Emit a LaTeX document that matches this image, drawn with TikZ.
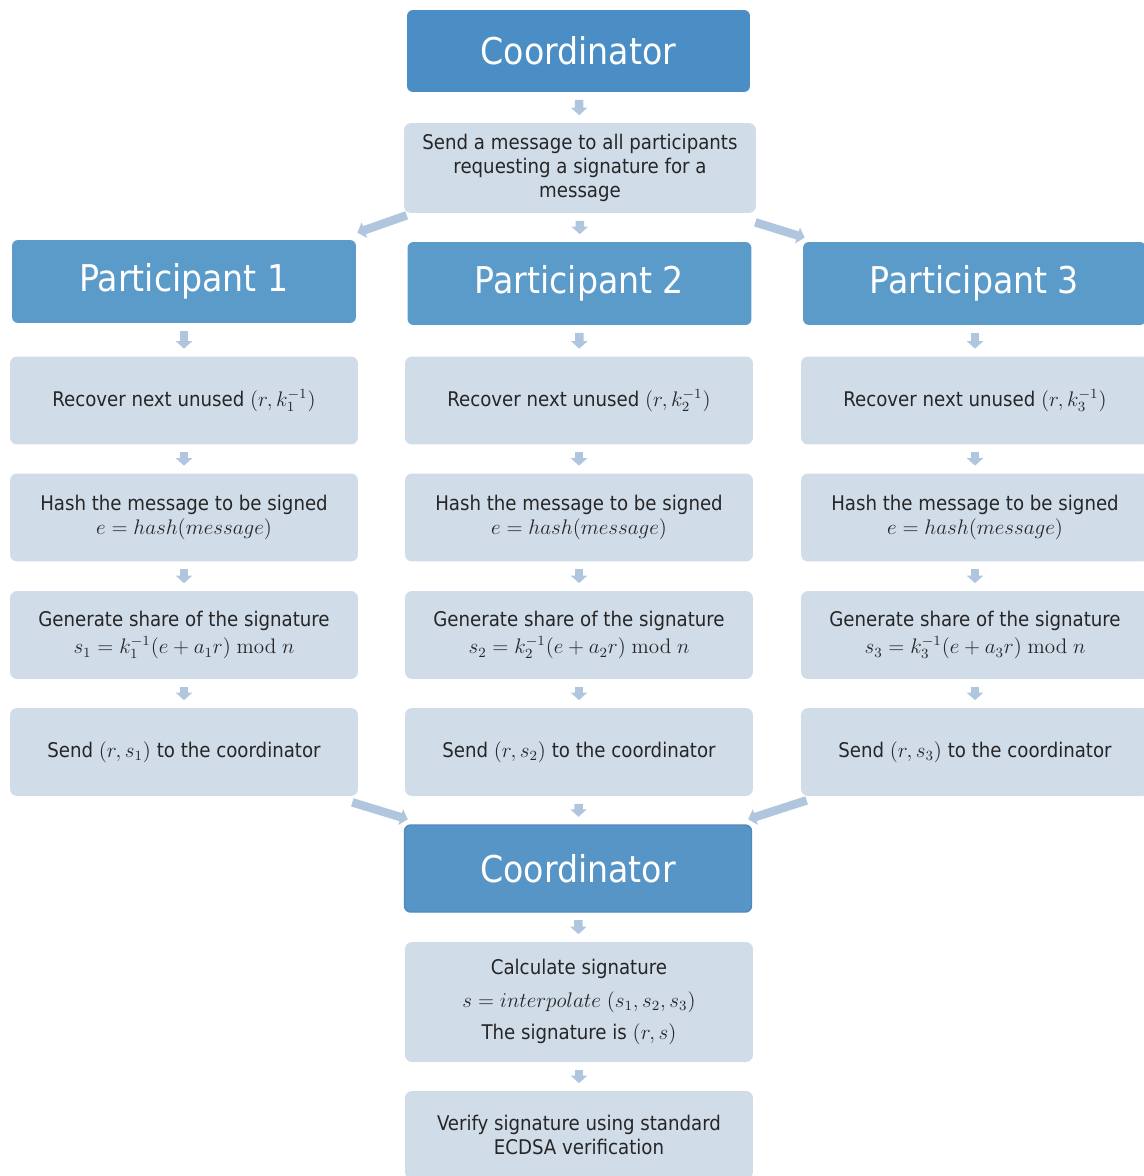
\documentclass[tikz,border=0pt]{standalone}
\usepackage[no-math]{fontspec}
\setmainfont{DejaVu Sans Condensed}
\usetikzlibrary{arrows.meta}
\definecolor{coordtop}{HTML}{4A8EC5}
\definecolor{partblue}{HTML}{5B9BCA}
\definecolor{coordlow}{HTML}{5795C7}
\definecolor{coordedge}{HTML}{4D89BD}
\definecolor{boxfill}{HTML}{D1DCE9}
\definecolor{arrowc}{HTML}{B0C5DE}
\definecolor{textc}{HTML}{262626}
\tikzset{
  head/.style={rounded corners=0.12cm, text=white, inner sep=0pt,
    font=\fontsize{21}{25}\selectfont, minimum width=6.88cm, minimum height=1.66cm},
  stepbox/.style={fill=boxfill, rounded corners=0.14cm, text=textc, inner sep=2pt,
    align=center, font=\fontsize{11.5}{13.7}\selectfont,
    minimum width=6.96cm, minimum height=1.76cm},
  flow/.style={draw=arrowc, line width=0.17cm,
    -{Triangle[width=0.32cm, length=0.15cm]},
    shorten <=0.15cm, shorten >=0.15cm},
  slant/.style={flow, shorten <=0pt, shorten >=0pt}
}
\begin{document}
\begin{tikzpicture}[x=0.02cm, y=-0.02cm]
  \useasboundingbox (0,0) rectangle (1143,1176);
  % coordinator asks
  \node[head, fill=coordtop, minimum width=6.86cm, minimum height=1.64cm] (coordA) at (578.5,51) {Coordinator};
  \node[stepbox, minimum width=7.04cm, minimum height=1.8cm] (request) at (580,168)
    {Send a message to all participants\\requesting a signature for a\\message};
  % participants
  \node[head, fill=partblue] (part1) at (184,281.5) {Participant 1};
  \node[head, fill=partblue] (part2) at (579.5,283.5) {Participant 2};
  \node[head, fill=partblue, minimum width=6.86cm] (part3) at (974.5,283.5) {Participant 3};
  \node[stepbox] (recover1) at (184,400.5) {Recover next unused $(r,k_1^{-1})$};
  \node[stepbox] (recover2) at (579,400.5) {Recover next unused $(r,k_2^{-1})$};
  \node[stepbox] (recover3) at (975,400.5) {Recover next unused $(r,k_3^{-1})$};
  \node[stepbox] (hash1) at (184,517.5) {Hash the message to be signed\\$e=hash(message)$};
  \node[stepbox] (hash2) at (579,517.5) {Hash the message to be signed\\$e=hash(message)$};
  \node[stepbox] (hash3) at (975,517.5) {Hash the message to be signed\\$e=hash(message)$};
  \node[stepbox] (share1) at (184,635) {Generate share of the signature\\[2pt]$s_1=k_1^{-1}(e+a_1r)\bmod n$};
  \node[stepbox] (share2) at (579,635) {Generate share of the signature\\[2pt]$s_2=k_2^{-1}(e+a_2r)\bmod n$};
  \node[stepbox] (share3) at (975,635) {Generate share of the signature\\[2pt]$s_3=k_3^{-1}(e+a_3r)\bmod n$};
  \node[stepbox] (send1) at (184,752) {Send $(r,s_1)$ to the coordinator};
  \node[stepbox] (send2) at (579,752) {Send $(r,s_2)$ to the coordinator};
  \node[stepbox] (send3) at (975,752) {Send $(r,s_3)$ to the coordinator};
  % coordinator combines
  \node[head, fill=coordlow, draw=coordedge, line width=0.8pt, minimum width=6.94cm, minimum height=1.74cm] (coordB) at (578,868.5) {Coordinator};
  \node[stepbox, minimum height=2.4cm] (combine) at (579,1002)
    {Calculate signature\\[5pt]$s=interpolate\ (s_1,s_2,s_3)$\\[5pt]The signature is $(r,s)$};
  \node[stepbox] (verify) at (579,1135) {Verify signature using standard\\ECDSA verification};
  % arrows
  \draw[flow] (coordA) -- (request);
  \draw[flow] (request) -- (part2);
  \draw[slant] ([shift={(3,2)}]request.south west) -- ([shift={(1,-7)}]part1.north east);
  \draw[slant] ([shift={(-1,9)}]request.south east) -- ([shift={(2,-4)}]part3.north west);
  \draw[flow] (part1) -- (recover1);
  \draw[flow] (part2) -- (recover2);
  \draw[flow] (part3.south -| recover3) -- (recover3);
  \draw[flow] (recover1) -- (hash1);
  \draw[flow] (recover2) -- (hash2);
  \draw[flow] (recover3) -- (hash3);
  \draw[flow] (hash1) -- (share1);
  \draw[flow] (hash2) -- (share2);
  \draw[flow] (hash3) -- (share3);
  \draw[flow] (share1) -- (send1);
  \draw[flow] (share2) -- (send2);
  \draw[flow] (share3) -- (send3);
  \draw[slant] ([shift={(-6,6)}]send1.south east) -- ([shift={(4,-5)}]coordB.north west);
  \draw[flow] (send2) -- (coordB);
  \draw[slant] ([shift={(6,4)}]send3.south west) -- ([shift={(-4,-5)}]coordB.north east);
  \draw[flow] (coordB) -- (combine);
  \draw[flow] (combine) -- (verify);
\end{tikzpicture}
\end{document}
